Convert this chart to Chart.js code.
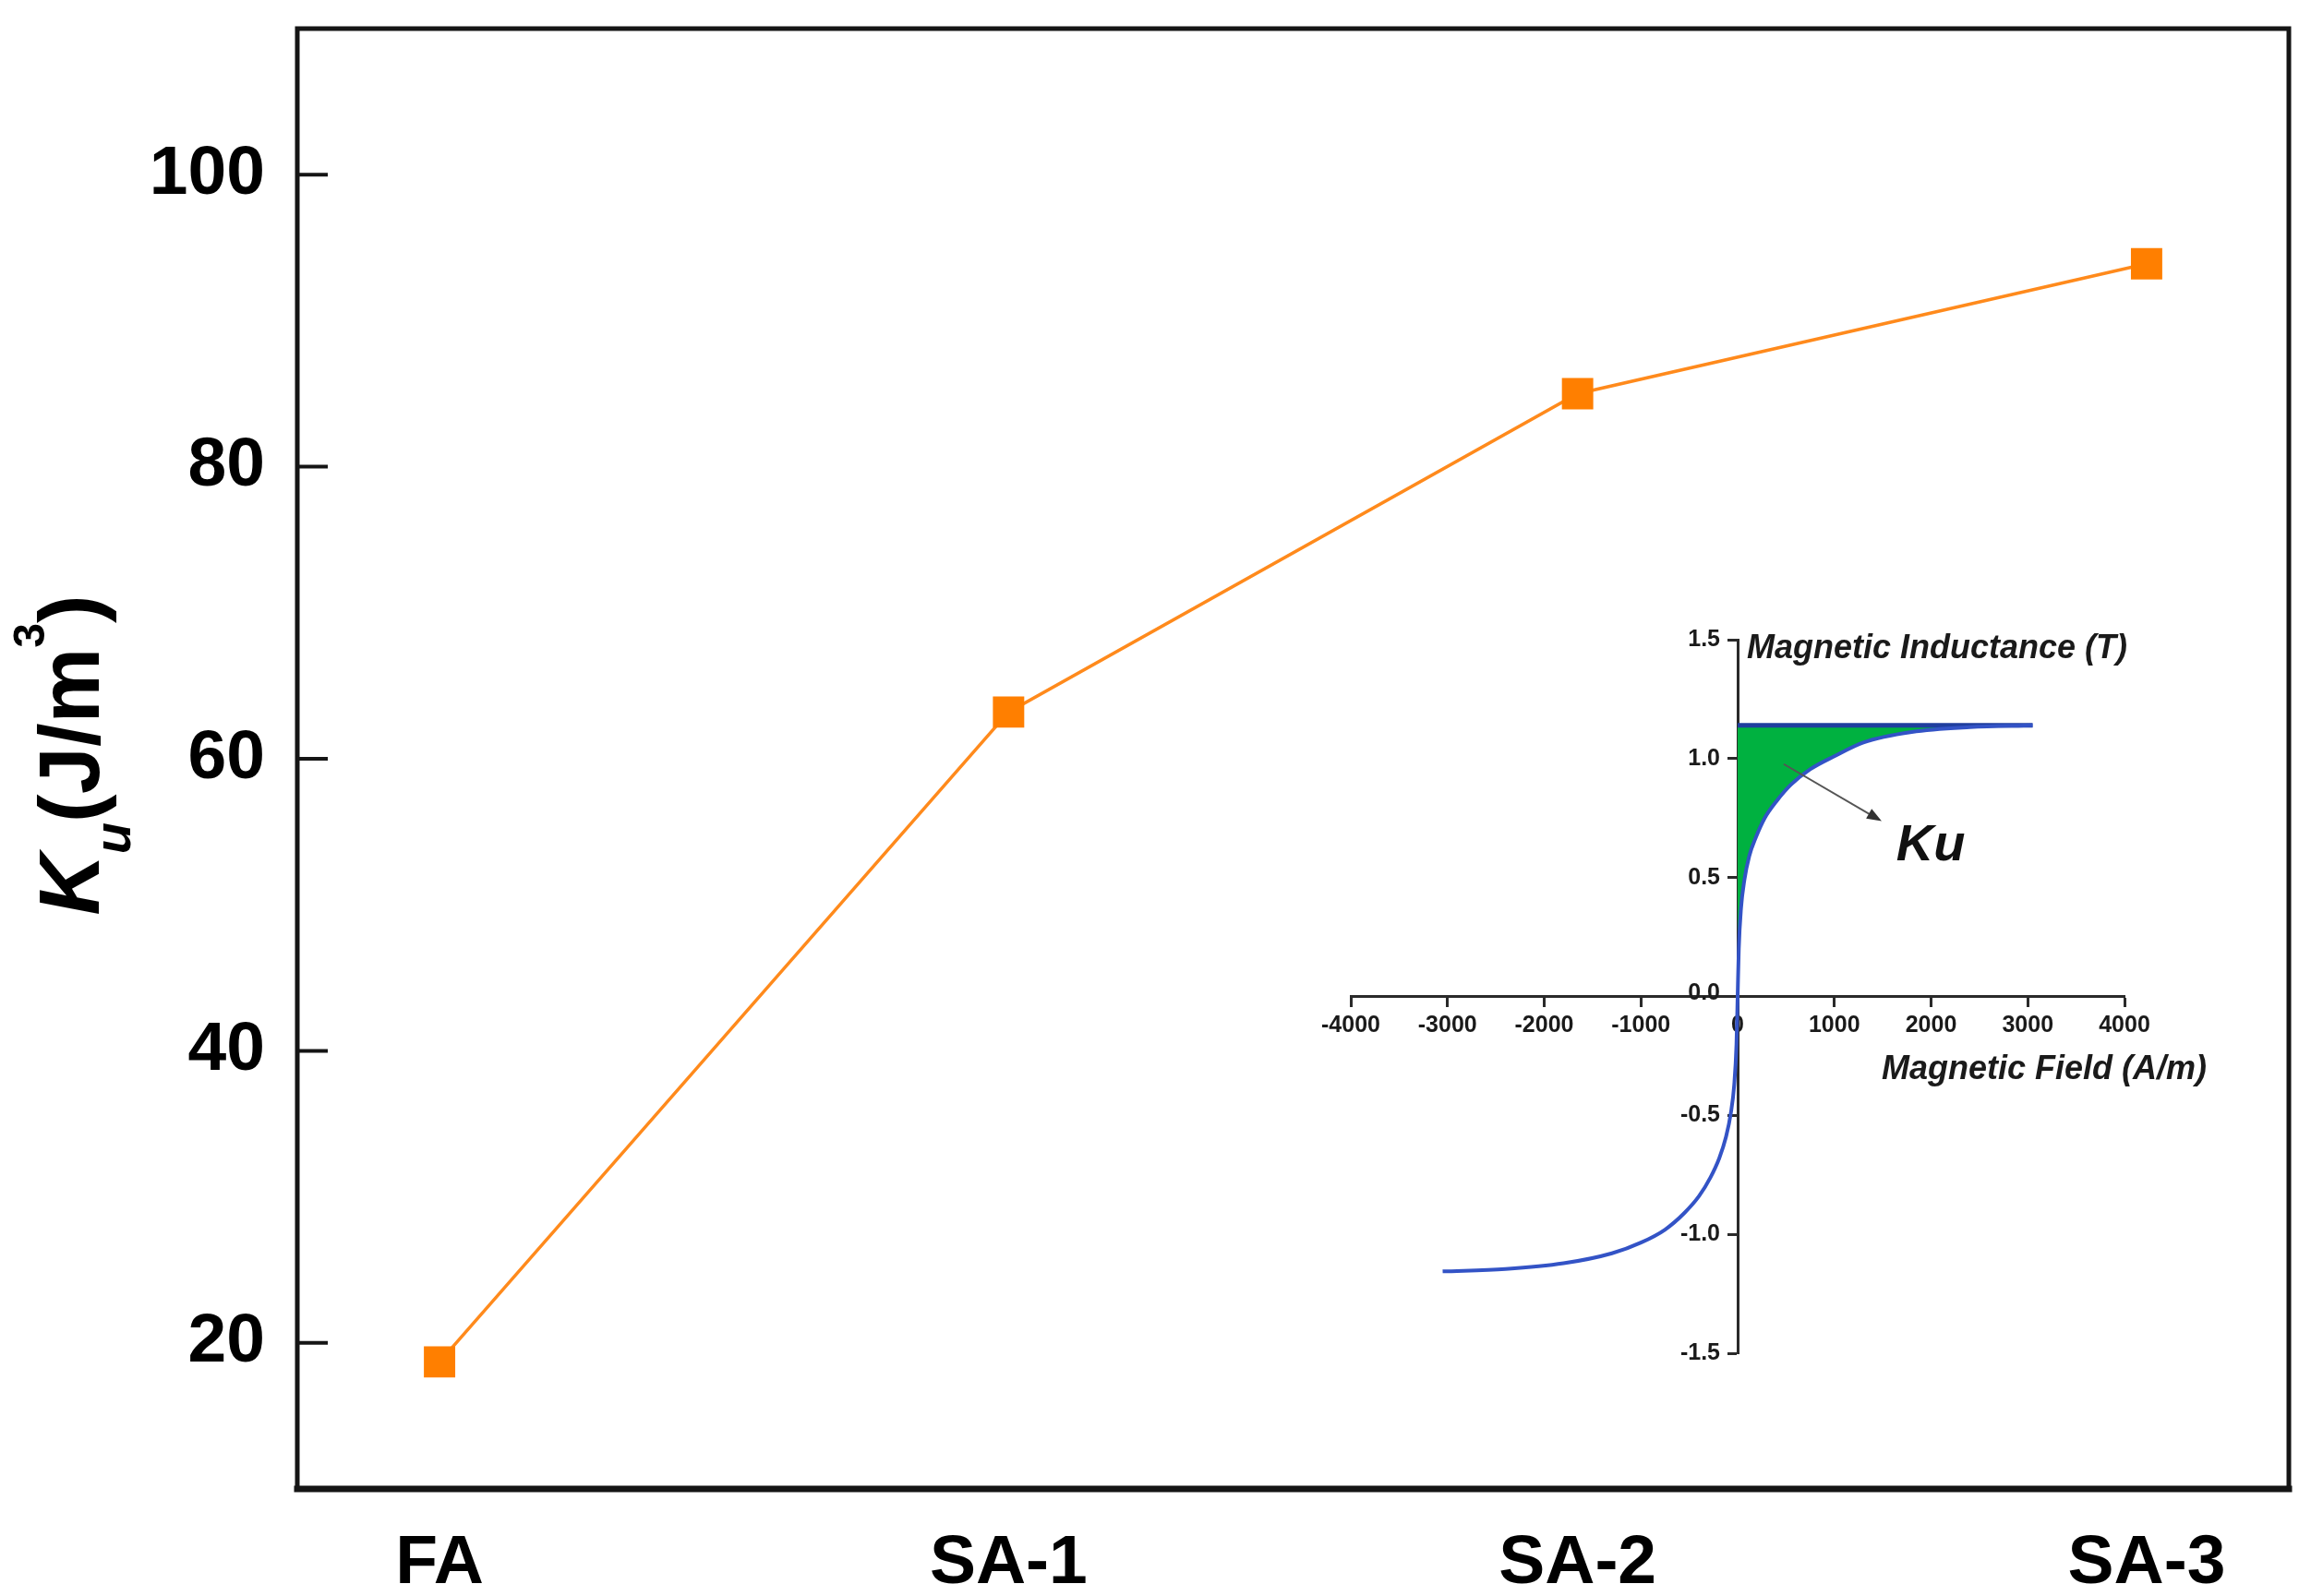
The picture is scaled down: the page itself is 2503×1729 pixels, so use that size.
<!DOCTYPE html>
<html>
<head>
<meta charset="utf-8">
<script src="https://cdn.jsdelivr.net/npm/chart.js@4.4.0/dist/chart.umd.min.js"></script>
<style>
  html, body { margin: 0; padding: 0; background: #fff; }
  #wrap { position: relative; width: 2503px; height: 1729px; }
  #main { position: absolute; left: 0; top: 0; }
  #inset { position: absolute; left: 1380px; top: 640px; }
</style>
</head>
<body>
<div id="wrap">
  <canvas id="main" width="2503" height="1729"></canvas>
  <canvas id="inset" width="1100" height="880"></canvas>
</div>
<script>
// main plot
const samples = ['FA', 'SA-1', 'SA-2', 'SA-3'];
const kuValues = [18.7, 63.2, 85.0, 93.9];
const kuTicks = [20, 40, 60, 80, 100];

// inset: B-H curve
const fieldNeg = [-3050, -2400, -1800, -1300, -1000, -750, -550, -400, -280, -190, -120, -70, -35, -12];
const inductNeg = [-1.156, -1.146, -1.122, -1.08, -1.035, -0.98, -0.91, -0.84, -0.76, -0.68, -0.59, -0.49, -0.37, -0.2];
const fieldPos = [0, 12, 35, 70, 120, 190, 280, 400, 550, 750, 1000, 1300, 1800, 2400, 3050];
const inductPos = [0, 0.2, 0.37, 0.49, 0.59, 0.67, 0.75, 0.82, 0.89, 0.955, 1.01, 1.068, 1.112, 1.132, 1.14];
const satLevel = 1.14;
const fieldTicks = [-4000, -3000, -2000, -1000, 0, 1000, 2000, 3000, 4000];
const inductTicks = [-1.5, -1.0, -0.5, 0.0, 0.5, 1.0, 1.5];

const FONT = '"Liberation Sans", Arial, Helvetica, sans-serif';

const framePlugin = {
  id: 'frame',
  afterDraw(chart) {
    const { ctx, chartArea: a } = chart;
    const y = chart.scales.y;
    ctx.save();
    ctx.strokeStyle = '#151515';
    ctx.lineCap = 'square';
    ctx.lineWidth = 5;
    ctx.beginPath();
    ctx.moveTo(a.left, a.bottom);
    ctx.lineTo(a.left, a.top);
    ctx.lineTo(a.right, a.top);
    ctx.lineTo(a.right, a.bottom);
    ctx.stroke();
    ctx.lineWidth = 7;
    ctx.beginPath();
    ctx.moveTo(a.left, a.bottom);
    ctx.lineTo(a.right, a.bottom);
    ctx.stroke();
    // inward ticks on left axis
    ctx.lineWidth = 4;
    ctx.lineCap = 'butt';
    kuTicks.forEach(v => {
      const py = y.getPixelForValue(v);
      ctx.beginPath();
      ctx.moveTo(a.left, py);
      ctx.lineTo(a.left + 33, py);
      ctx.stroke();
    });
    ctx.restore();
  }
};

const yTitlePlugin = {
  id: 'yTitle',
  afterDraw(chart) {
    const ctx = chart.ctx;
    const parts = [
      { t: 'K', f: 'italic bold 92px ' + FONT, dy: 0 },
      { t: 'u', f: 'italic bold 56px ' + FONT, dy: 34 },
      { t: '(J/m', f: 'bold 92px ' + FONT, dy: 0 },
      { t: '3', f: 'bold 48px ' + FONT, dy: -59 },
      { t: ')', f: 'bold 92px ' + FONT, dy: 0 }
    ];
    ctx.save();
    let w = 0;
    parts.forEach(p => { ctx.font = p.f; p.w = ctx.measureText(p.t).width; w += p.w; });
    ctx.translate(107, 818);
    ctx.rotate(-Math.PI / 2);
    ctx.fillStyle = '#000';
    ctx.textBaseline = 'alphabetic';
    ctx.textAlign = 'left';
    let x = -w / 2;
    parts.forEach(p => {
      ctx.font = p.f;
      ctx.fillText(p.t, x, p.dy);
      x += p.w;
    });
    ctx.restore();
  }
};

new Chart(document.getElementById('main'), {
  type: 'line',
  data: {
    datasets: [{
      data: kuValues.map((v, i) => ({ x: i, y: v })),
      borderColor: '#ff8a1c',
      borderWidth: 3.5,
      pointStyle: 'rect',
      pointRadius: 24,
      pointBackgroundColor: '#ff7f00',
      pointBorderColor: '#ff7f00',
      pointBorderWidth: 0,
      tension: 0
    }]
  },
  options: {
    responsive: false,
    animation: false,
    layout: { padding: { left: 0, top: 31, right: 23, bottom: 0 } },
    plugins: { legend: { display: false }, tooltip: { enabled: false } },
    scales: {
      x: {
        type: 'linear',
        min: -0.25,
        max: 3.25,
        afterBuildTicks: s => { s.ticks = samples.map((_, i) => ({ value: i })); },
        afterFit: s => { s.height = 116; s.paddingLeft = 0; s.paddingRight = 0; },
        ticks: {
          autoSkip: false,
          maxRotation: 0,
          padding: 28,
          color: '#000',
          font: { family: FONT, size: 75, weight: 'bold' },
          callback: v => samples[v]
        },
        grid: { display: false },
        border: { display: false }
      },
      y: {
        min: 10,
        max: 110,
        afterBuildTicks: s => { s.ticks = kuTicks.map(v => ({ value: v })); },
        afterFit: s => { s.width = 322; s.paddingTop = 0; s.paddingBottom = 0; },
        ticks: {
          padding: 27,
          color: '#000',
          font: { family: FONT, size: 75, weight: 'bold' }
        },
        grid: { display: false },
        border: { display: false }
      }
    }
  },
  plugins: [framePlugin, yTitlePlugin]
});

const insetTextPlugin = {
  id: 'insetText',
  afterDraw(chart) {
    const { ctx } = chart;
    const xs = chart.scales.x, ys = chart.scales.y;
    const x0 = xs.getPixelForValue(0);
    ctx.save();
    // y tick labels, left of the centred axis
    ctx.fillStyle = '#1a1a1a';
    ctx.font = 'bold 25px ' + FONT;
    ctx.textAlign = 'right';
    ctx.textBaseline = 'middle';
    inductTicks.forEach(v => {
      ctx.fillText(v.toFixed(1), x0 - 19, ys.getPixelForValue(v) - (v === 0 ? 3 : 0));
    });

    ctx.font = 'italic bold 36px ' + FONT;
    ctx.textAlign = 'left';
    ctx.fillText('Magnetic Inductance (T)', x0 + 10, ys.getPixelForValue(1.5) + 10);
    ctx.textAlign = 'right';
    ctx.fillText('Magnetic Field (A/m)', xs.getPixelForValue(4000) + 89, ys.getPixelForValue(0) + 80);

    // arrow pointing at the shaded area
    const x1 = xs.getPixelForValue(477), y1 = ys.getPixelForValue(0.977);
    const x2 = xs.getPixelForValue(1489), y2 = ys.getPixelForValue(0.737);
    const ang = Math.atan2(y2 - y1, x2 - x1);
    ctx.strokeStyle = '#555';
    ctx.fillStyle = '#333';
    ctx.lineWidth = 2;
    ctx.beginPath();
    ctx.moveTo(x1, y1);
    ctx.lineTo(x2 - 8 * Math.cos(ang), y2 - 8 * Math.sin(ang));
    ctx.stroke();
    ctx.beginPath();
    ctx.moveTo(x2, y2);
    ctx.lineTo(x2 - 16 * Math.cos(ang) + 6 * Math.sin(ang), y2 - 16 * Math.sin(ang) - 6 * Math.cos(ang));
    ctx.lineTo(x2 - 16 * Math.cos(ang) - 6 * Math.sin(ang), y2 - 16 * Math.sin(ang) + 6 * Math.cos(ang));
    ctx.closePath();
    ctx.fill();

    ctx.fillStyle = '#111';
    ctx.font = 'italic bold 56px ' + FONT;
    ctx.textAlign = 'left';
    ctx.textBaseline = 'alphabetic';
    ctx.fillText('Ku', xs.getPixelForValue(1640), ys.getPixelForValue(0.573));
    ctx.restore();
  }
};

const curveField = fieldNeg.concat(fieldPos);
const curveInduct = inductNeg.concat(inductPos);
const axisStyle = {
  grid: { drawOnChartArea: false, drawTicks: true, tickLength: 10, tickWidth: 3, tickColor: '#2a2a2a' },
  border: { color: '#2a2a2a', width: 3 }
};

new Chart(document.getElementById('inset'), {
  type: 'line',
  data: {
    datasets: [
      {
        data: curveField.map((x, i) => ({ x, y: curveInduct[i] })),
        borderColor: '#3353c6',
        borderWidth: 4,
        pointRadius: 0,
        cubicInterpolationMode: 'monotone',
        order: 0
      },
      {
        data: [{ x: 0, y: satLevel }, { x: 3050, y: satLevel }],
        borderColor: '#1f3e9e',
        borderWidth: 5,
        pointRadius: 0,
        order: 1
      },
      {
        data: fieldPos.map((x, i) => ({ x, y: inductPos[i] })),
        borderWidth: 0,
        pointRadius: 0,
        backgroundColor: '#00b140',
        fill: { value: satLevel },
        cubicInterpolationMode: 'monotone',
        order: 2
      }
    ]
  },
  options: {
    responsive: false,
    animation: false,
    layout: { padding: { left: 83, right: 179, top: 53, bottom: 54 } },
    plugins: { legend: { display: false }, tooltip: { enabled: false } },
    scales: {
      x: {
        type: 'linear',
        position: { y: 0 },
        min: -4000,
        max: 4000,
        afterBuildTicks: s => { s.ticks = fieldTicks.map(v => ({ value: v })); },
        ticks: {
          autoSkip: false,
          maxRotation: 0,
          padding: 7,
          color: '#1a1a1a',
          font: { family: FONT, size: 25, weight: 'bold' },
          callback: v => String(v)
        },
        ...axisStyle
      },
      y: {
        type: 'linear',
        position: { x: 0 },
        min: -1.5,
        max: 1.5,
        afterBuildTicks: s => { s.ticks = inductTicks.map(v => ({ value: v })); },
        ticks: { display: false },
        ...axisStyle
      }
    }
  },
  plugins: [insetTextPlugin]
});
</script>
</body>
</html>
